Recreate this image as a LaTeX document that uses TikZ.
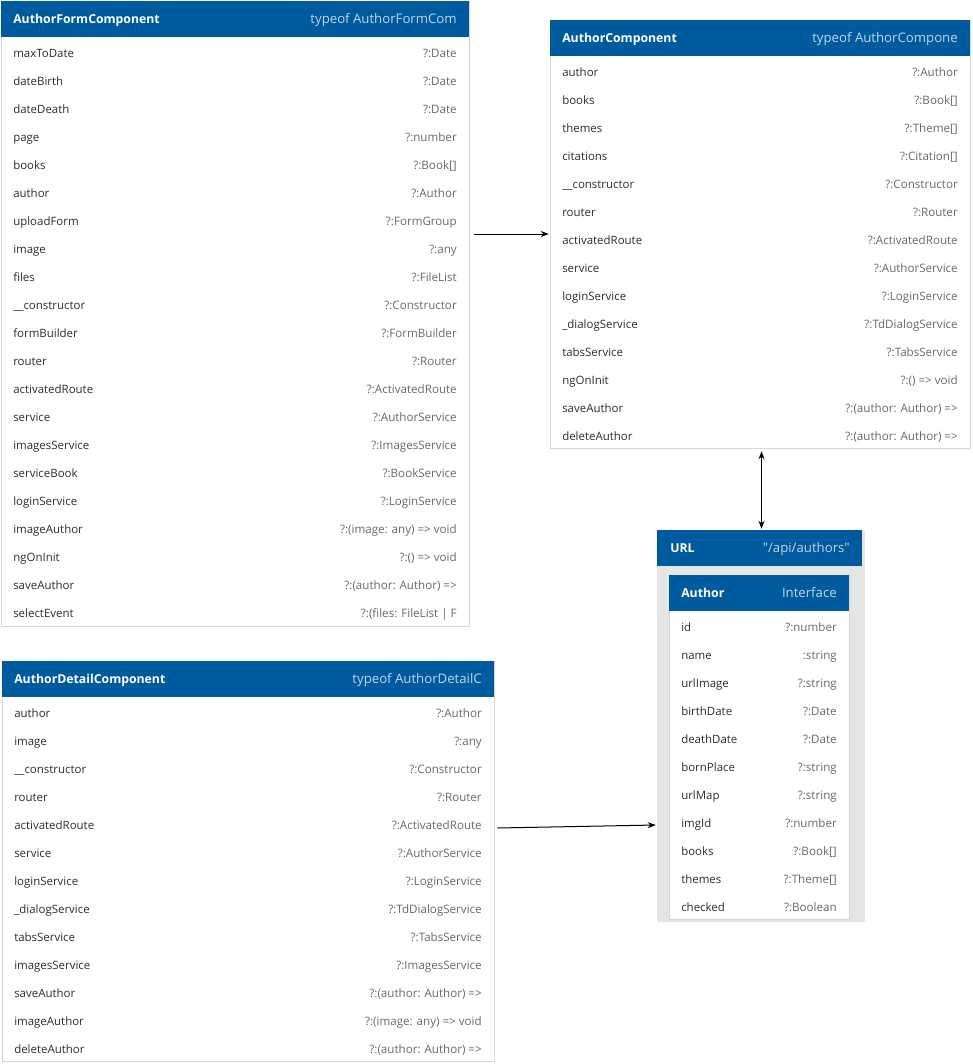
\documentclass[tikz,border=0pt]{standalone}
\usepackage{fontspec}
\setmainfont{Open Sans}
\usetikzlibrary{arrows.meta,fit,calc}

\definecolor{hdrblue}{RGB}{0,90,158}
\definecolor{hdrsub}{RGB}{192,212,234}
\definecolor{framegray}{RGB}{214,214,214}
\definecolor{panelgray}{RGB}{229,229,229}
\definecolor{namecol}{RGB}{45,45,45}
\definecolor{typecol}{RGB}{105,105,105}

\tikzset{
  htitle/.style={text=white, font=\fontsize{9.2}{12}\selectfont\bfseries,
    inner sep=0, text height=7.2pt, text depth=2pt},
  hsub/.style={text=hdrsub, font=\fontsize{9.9}{12}\selectfont,
    inner sep=0, text height=7.2pt, text depth=2pt},
  fname/.style={text=namecol, font=\fontsize{8.6}{11}\selectfont,
    inner sep=0, text height=6.6pt, text depth=1.9pt, anchor=west},
  ftype/.style={text=typecol, font=\fontsize{8.7}{11}\selectfont,
    inner sep=0, text height=6.6pt, text depth=1.9pt, anchor=east},
  frame/.style={draw=framegray, line width=0.75pt, fill=white},
  conn/.style={draw=black, line width=0.75pt,
    -{Stealth[length=6pt,width=4.5pt]}},
  biconn/.style={draw=black, line width=0.75pt,
    {Stealth[length=6pt,width=4.5pt]}-{Stealth[length=6pt,width=4.5pt]}}
}

% #1 name, #2 left, #3 top, #4 right, #5 bottom, #6 title, #7 type, #8 rows
\newcommand\classbox[8]{%
  \path[frame] (#2,#3) rectangle (#4,#5);
  \fill[hdrblue] (#2,#3) rectangle (#4,#3+36);
  \node[htitle, anchor=west] (#1-title) at (#2+12,#3+19) {#6};
  \node[hsub, anchor=east] (#1-sub) at (#4-12,#3+19) {#7};
  \foreach[count=\i] \n/\t in {#8}{%
    \node[fname] (#1-n\i) at (#2+12,#3+25+28*\i) {\n};
    \node[ftype] (#1-t\i) at (#4-12,#3+25+28*\i) {\t};
  }
  \node[fit={(#2,#3)(#4,#5)}, inner sep=0] (#1) {};
}

\begin{document}
\begin{tikzpicture}[x=0.75pt,y=-0.75pt]
\fill[white] (0,0) rectangle (973,1064);
\useasboundingbox (0,0) rectangle (973,1064);

\classbox{form}{1}{1}{469}{626}{AuthorFormComponent}{typeof AuthorFormCom}{
  maxToDate/?:Date, dateBirth/?:Date, dateDeath/?:Date, page/?:number,
  books/?:Book[], author/?:Author, uploadForm/?:FormGroup, image/?:any,
  files/?:FileList, \_\_constructor/?:Constructor, formBuilder/?:FormBuilder,
  router/?:Router, activatedRoute/?:ActivatedRoute, service/?:AuthorService,
  imagesService/?:ImagesService, serviceBook/?:BookService,
  loginService/?:LoginService, imageAuthor/?:(image: any) => void,
  ngOnInit/?:() => void, saveAuthor/?:(author: Author) =>,
  selectEvent/?:(files: FileList | F}

\classbox{comp}{550}{20}{970}{448}{AuthorComponent}{typeof AuthorCompone}{
  author/?:Author, books/?:Book[], themes/?:Theme[], citations/?:Citation[],
  \_\_constructor/?:Constructor, router/?:Router,
  activatedRoute/?:ActivatedRoute, service/?:AuthorService,
  loginService/?:LoginService, \_dialogService/?:TdDialogService,
  tabsService/?:TabsService, ngOnInit/?:() => void,
  saveAuthor/?:(author: Author) =>, deleteAuthor/?:(author: Author) =>}

\classbox{detail}{2}{661}{494}{1061}{AuthorDetailComponent}{typeof AuthorDetailC}{
  author/?:Author, image/?:any, \_\_constructor/?:Constructor, router/?:Router,
  activatedRoute/?:ActivatedRoute, service/?:AuthorService,
  loginService/?:LoginService, \_dialogService/?:TdDialogService,
  tabsService/?:TabsService, imagesService/?:ImagesService,
  saveAuthor/?:(author: Author) =>, imageAuthor/?:(image: any) => void,
  deleteAuthor/?:(author: Author) =>}

% URL panel holding the Author interface
\fill[panelgray] (657,530) rectangle (865,922);
\fill[hdrblue] (657,530) rectangle (862,566);
\node[htitle, anchor=west] (url-title) at (670,549) {URL};
\node[hsub, anchor=east] (url-sub) at (850,549) {\textquotedbl/api/authors\textquotedbl};
\node[fit={(657,530)(865,922)}, inner sep=0] (url) {};

\classbox{author}{669}{575}{849}{919}{Author}{Interface}{
  id/?:number, name/:string, urlImage/?:string, birthDate/?:Date,
  deathDate/?:Date, bornPlace/?:string, urlMap/?:string, imgId/?:number,
  books/?:Book[], themes/?:Theme[], checked/?:Boolean}

% connectors
\draw[conn] ($(form.east |- comp.west)+(5,0)$) -- ($(comp.west)+(-1,0)$);
\draw[biconn] ($(comp.south)+(1.5,3)$) -- ($(comp.south |- url.north)+(1.5,-1)$);
\draw[conn] ($(detail.east |- detail-n5)+(3,2)$) -- ($(url.west |- detail-n5)+(-1,-1)$);
\end{tikzpicture}
\end{document}
